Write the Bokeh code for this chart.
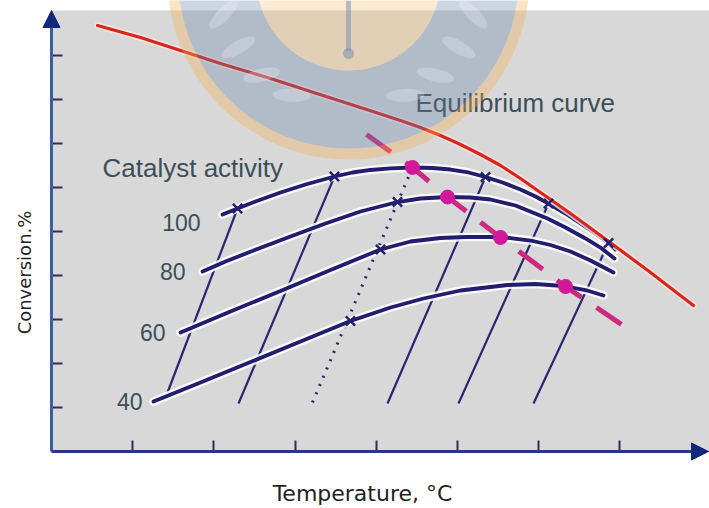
import numpy as np
from bokeh.plotting import figure
from bokeh.models import Arrow, NormalHead, FixedTicker, CustomJSTickFormatter
from bokeh.models import ColumnDataSource
from bokeh.core.properties import value
from bokeh.embed import file_html
from bokeh.resources import INLINE

# ---------------- data (axis units: temperature ticks 1..7, conversion ticks 1..9) -------------
temp_ticks = [1, 2, 3, 4, 5, 6, 7]
conv_ticks = [1, 2, 3, 4, 5, 6, 7, 8, 9]

equil_x = [0.567, 1.096, 1.589, 2.081, 2.660, 3.190, 3.805, 4.298, 4.544, 4.791, 5.037,
           5.283, 5.530, 5.776, 6.022, 6.392, 6.847, 7.377, 7.906]
equil_y = [9.682, 9.409, 9.114, 8.818, 8.500, 8.182, 7.818, 7.523, 7.364, 7.182, 6.977,
           6.750, 6.500, 6.205, 5.886, 5.409, 4.795, 4.068, 3.318]

activity_labels = ["100", "80", "60", "40"]

act100_x = [2.106, 2.291, 2.512, 2.820, 3.128, 3.485, 3.707, 3.929, 4.175, 4.446, 4.692, 4.914,
            5.135, 5.345, 5.554, 5.776, 5.961, 6.121, 6.330, 6.515, 6.700, 6.860, 6.946]
act100_y = [5.386, 5.523, 5.682, 5.886, 6.068, 6.250, 6.341, 6.398, 6.436, 6.455, 6.443, 6.409,
            6.341, 6.239, 6.114, 5.955, 5.795, 5.636, 5.409, 5.182, 4.955, 4.739, 4.591]

act80_x = [1.860, 2.143, 2.488, 2.943, 3.374, 3.805, 4.261, 4.544, 4.877, 5.160, 5.406, 5.714,
           6.108, 6.330, 6.576, 6.761, 6.933]
act80_y = [4.091, 4.318, 4.568, 4.886, 5.182, 5.455, 5.670, 5.750, 5.784, 5.773, 5.727, 5.591,
           5.295, 5.091, 4.841, 4.636, 4.386]

act60_x = [1.589, 2.204, 2.820, 3.436, 4.052, 4.421, 4.791, 5.099, 5.406, 5.653, 5.899, 6.145,
           6.392, 6.638, 6.921]
act60_y = [2.705, 3.182, 3.648, 4.125, 4.591, 4.773, 4.852, 4.875, 4.875, 4.852, 4.795, 4.693,
           4.545, 4.341, 4.068]

act40_x = [1.256, 1.835, 2.451, 3.067, 3.682, 4.175, 4.581, 5.037, 5.616, 5.961, 6.305, 6.576,
           6.798]
act40_y = [1.136, 1.568, 2.034, 2.500, 2.966, 3.273, 3.477, 3.659, 3.784, 3.807, 3.761, 3.670,
           3.545]

# slanted (constant-rate) lines, bottom -> top
slant_x0 = [1.429, 2.303, 4.138, 5.012, 5.936]
slant_y0 = [1.341, 1.091, 1.091, 1.091, 1.091]
slant_x1 = [2.291, 3.485, 5.345, 6.121, 6.860]
slant_y1 = [5.523, 6.250, 6.239, 5.636, 4.739]

dotted_x = [3.214, 4.446]
dotted_y = [1.114, 6.455]

cross_x = [2.291, 3.485, 5.345, 6.121, 6.860, 4.261, 4.052, 3.682]
cross_y = [5.523, 6.250, 6.239, 5.636, 4.739, 5.670, 4.591, 2.966]

opt_x = [4.446, 4.877, 5.530, 6.330]
opt_y = [6.455, 5.784, 4.864, 3.750]
optline_x = [3.879, 4.446, 4.877, 5.530, 6.330, 7.057]
optline_y = [7.205, 6.455, 5.784, 4.864, 3.750, 2.841]

# ---------------- figure geometry ----------------
W, H = 709, 508
BL, BB = 10, 0             # borders for the (label-less) axis panels
SX, SY = 81.2, 44.0        # pixels per axis unit
AX0, AY0 = 51, 451         # pixel position of the axes origin
X0 = -(AX0 - BL) / SX
X1 = X0 + (W - BL) / SX
Y1 = AY0 / SY
Y0 = Y1 - (H - BB) / SY
GRAY_TOP = (AY0 - 10) / SY
X_END = (W - 1 - AX0) / SX

p = figure(width=W, height=H, x_range=(X0, X1), y_range=(Y0, Y1),
           output_backend="svg", toolbar_location=None,
           min_border_left=BL, min_border_right=0, min_border_top=0, min_border_bottom=BB)
p.background_fill_color = "white"
p.border_fill_color = "white"
p.outline_line_color = None
p.grid.grid_line_color = None

# plot area (gray panel)
p.quad(left=[0], right=[X1], bottom=[0], top=[GRAY_TOP], fill_color="#d8d8d8", line_color=None)

for ax, ticks in ((p.xaxis[0], temp_ticks), (p.yaxis[0], conv_ticks)):
    ax.fixed_location = 0
    ax.ticker = FixedTicker(ticks=ticks)
    ax.formatter = CustomJSTickFormatter(code="return ''")
    ax.major_tick_in = 11
    ax.major_tick_out = 0
    ax.minor_tick_line_color = None
    ax.major_tick_line_color = "#2a2f55"
    ax.major_tick_line_width = 2
    ax.major_label_text_color = None
    ax.major_label_text_font_size = "0px"
    ax.major_label_standoff = 0
    ax.axis_line_color = None

NAVY = "#221d6e"

# slanted lines and dotted line (under the curves)
p.segment(slant_x0, slant_y0, slant_x1, slant_y1, line_color="#2a2670", line_width=2.2)
p.line(dotted_x, dotted_y, line_color="#2a2670", line_width=3, line_dash="2 7")

curves = [(act100_x, act100_y), (act80_x, act80_y), (act60_x, act60_y), (act40_x, act40_y)]
for cx, cy in curves:
    p.line(cx, cy, line_color="white", line_width=8.5, line_alpha=0.85,
           line_join="round", line_cap="round")
for cx, cy in curves:
    p.line(cx, cy, line_color=NAVY, line_width=3.8, line_join="round", line_cap="round")

# equilibrium curve
p.line(equil_x, equil_y, line_color="#fbe3e3", line_width=6.5, line_alpha=0.8,
       line_join="round", line_cap="round")
p.line(equil_x, equil_y, line_color="#d9261c", line_width=3.2, line_join="round",
       line_cap="round")

# crosses
p.scatter(cross_x, cross_y, marker="x", size=13, line_color="#241f70", line_width=2.5)

# optimum path
p.line(optline_x, optline_y, line_color="#cc2a80", line_width=5, line_dash="30 18")
p.scatter(opt_x, opt_y, marker="circle", size=14, fill_color="#d2179a", line_color="#d2179a")

# labels
TXT = "#3b4f58"
lab_src = ColumnDataSource(dict(
    x=[c[0][0] for c in curves], y=[c[1][0] for c in curves], text=activity_labels,
    dx=[-22, -17, -15, -11], dy=[8, 0, 0, 0]))
p.text(x="x", y="y", text="text", source=lab_src, x_offset="dx", y_offset="dy",
       text_align="right", text_baseline="middle", text_font=value("Liberation Sans"),
       text_font_size="23px", text_color=TXT)
p.text(x=[0.628], y=[6.45], text=["Catalyst activity"], text_align="left", text_baseline="middle",
       text_font=value("Liberation Sans"), text_font_size="26px", text_color=TXT)
p.text(x=[4.483], y=[7.91], text=["Equilibrium curve"], text_align="left", text_baseline="middle",
       text_font=value("Liberation Sans"), text_font_size="26px", text_color=TXT)

# axis titles
p.text(x=[(362 - AX0) / SX], y=[(AY0 - 493) / SY], text=["Temperature, °C"],
       text_align="center", text_baseline="middle", text_font=value("DejaVu Sans"),
       text_font_size="22px", text_color="#222222")
p.text(x=[(24 - AX0) / SX], y=[(AY0 - 272) / SY], text=["Conversion.%"], angle=np.pi / 2,
       text_align="center", text_baseline="middle", text_font=value("DejaVu Sans"),
       text_font_size="18px", text_color="#222222")

# axis lines with arrow heads
p.add_layout(Arrow(end=NormalHead(size=17, fill_color="#13277a", line_color="#13277a"),
                   x_start=0, y_start=0, x_end=0, y_end=GRAY_TOP,
                   line_color="#3f5aa6", line_width=3))
p.add_layout(Arrow(end=NormalHead(size=17, fill_color="#13277a", line_color="#13277a"),
                   x_start=0, y_start=0, x_end=X_END, y_end=0,
                   line_color="#26388a", line_width=3))

# ---------------- faint watermark (decorative overlay) ----------------
def to_data(xp, yp):
    return (np.asarray(xp, float) - AX0) / SX, (AY0 - np.asarray(yp, float)) / SY


def ring(cx, cy, r_in, r_out, n=180):
    t = np.linspace(0, 2 * np.pi, n)
    xo, yo = cx + r_out * np.cos(t), cy + r_out * np.sin(t)
    if r_in > 0:
        xi, yi = cx + r_in * np.cos(t[::-1]), cy + r_in * np.sin(t[::-1])
        xo, yo = np.concatenate([xo, xi]), np.concatenate([yo, yi])
    return to_data(xo, yo)


WX, WY = 348, -22
for r_in, r_out, col, a in ((170, 181, "#f5af50", 0.35), (92, 170, "#6482aa", 0.32),
                            (0, 92, "#f5be64", 0.30)):
    xs, ys = ring(WX, WY, r_in, r_out)
    p.patch(list(xs), list(ys), fill_color=col, fill_alpha=a, line_color=None)

leaf_ang = np.radians([-74, -58, -42, -26, 26, 42, 58, 74])
lx, ly = to_data(WX + 130 * np.sin(leaf_ang), WY + 130 * np.cos(leaf_ang))
p.ellipse(x=list(lx), y=list(ly), width=38, height=13, width_units="screen",
          height_units="screen", angle=list(-leaf_ang + 0.5 * np.sign(leaf_ang)),
          fill_color="white", fill_alpha=0.22, line_color=None)
tx, ty = to_data([WX, WX], [0, 50])
p.line(list(tx), list(ty), line_color="#6482aa", line_alpha=0.45, line_width=5)
bx, by = to_data([WX], [53])
p.scatter(list(bx), list(by), marker="circle", size=11, fill_color="#6482aa", fill_alpha=0.45,
          line_color=None)

open("out.html", "w").write(file_html(p, INLINE))
